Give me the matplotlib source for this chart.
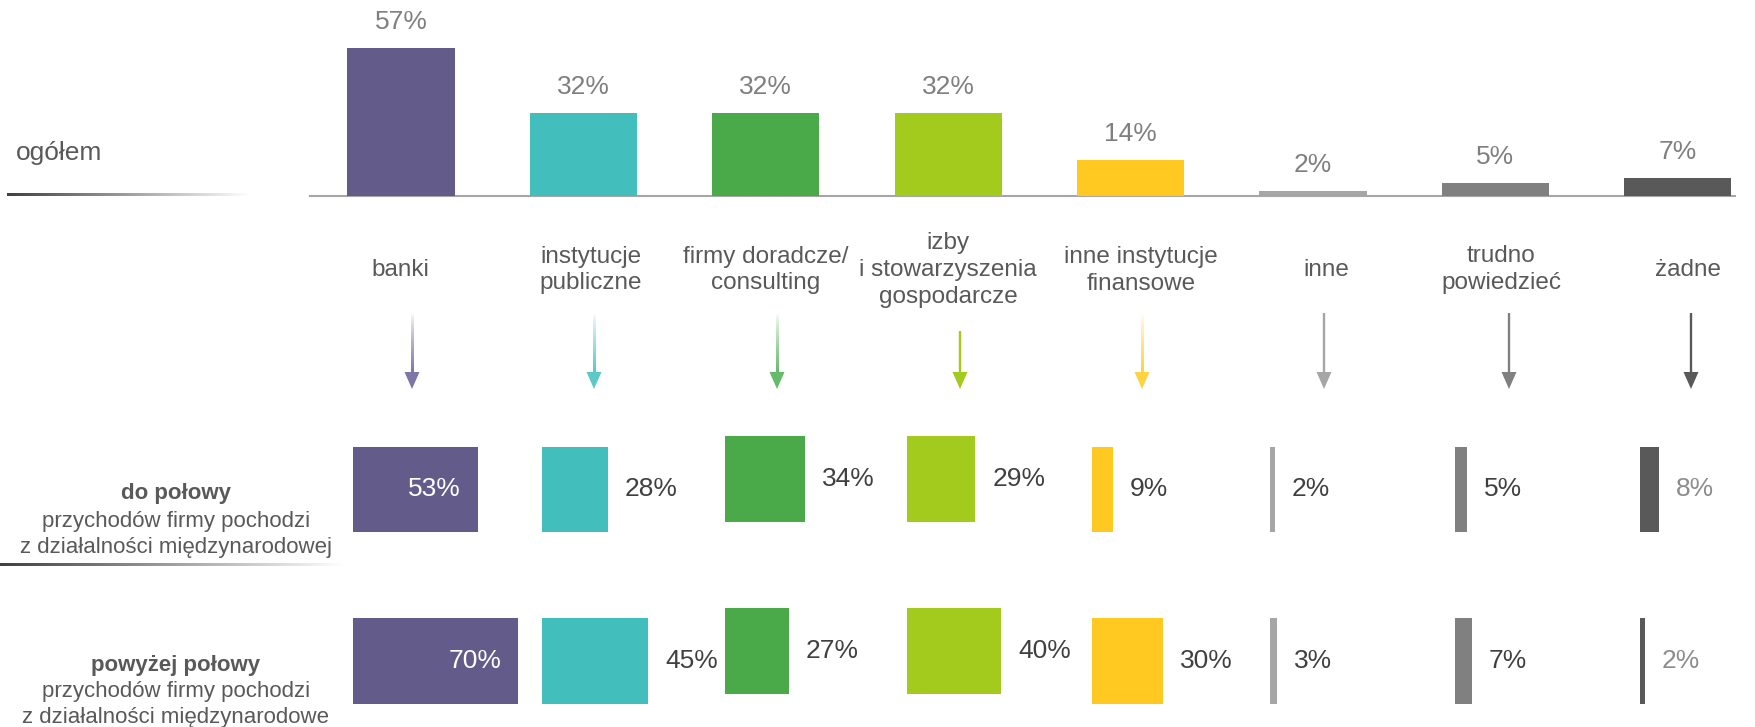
import numpy as np
import matplotlib
matplotlib.use("Agg")
import matplotlib.pyplot as plt
from matplotlib.patches import Polygon
from matplotlib.colors import to_rgb

plt.rcParams['font.family'] = ['Liberation Sans', 'DejaVu Sans']

# ---------------- data ----------------
categories = ["banki", "instytucje\npubliczne", "firmy doradcze/\nconsulting",
              "izby\ni stowarzyszenia\ngospodarcze", "inne instytucje\nfinansowe",
              "inne", "trudno\npowiedzieć", "żadne"]
overall = [57, 32, 32, 32, 14, 2, 5, 7]
up_to_half = [53, 28, 34, 29, 9, 2, 5, 8]
over_half = [70, 45, 27, 40, 30, 3, 7, 2]
row_titles = [("do połowy", "przychodów firmy pochodzi", "z działalności międzynarodowej"),
              ("powyżej połowy", "przychodów firmy pochodzi", "z działalności międzynarodowe")]
overall_label = "ogółem"

colors = ["#635C8A", "#42BEBC", "#4AAA4A", "#A2CB1D", "#FFC922", "#A6A6A6", "#808080", "#595959"]
arrow_colors = ["#7D76A6", "#5CC9C7", "#66BB6A", "#A2CB1D", "#FFD23F", "#A6A6A6", "#808080", "#595959"]
arrow_fade = [True, True, True, False, True, False, False, False]
label_colors = ["white"] + ["#404040"] * 6 + ["#8C8C8C"]

W, H = 1756, 727
fig = plt.figure(figsize=(W / 100, H / 100), dpi=100)
fig.patch.set_facecolor("white")

# overlay axes in pixel coordinates (for text, arrows, decorative lines)
ov = fig.add_axes([0, 0, 1, 1])
ov.axis("off")
ov.patch.set_alpha(0)


def px_to_fig(x0, y0, x1, y1):
    return [x0 / W, 1 - y1 / H, (x1 - x0) / W, (y1 - y0) / H]


def gradient_line(x0, x1, y, c0="#404040", th=2.4, n=256):
    c0 = np.array(to_rgb(c0))
    t = np.linspace(0, 1, n)[:, None]
    cols = c0 * (1 - t) + np.array([1, 1, 1]) * t
    ov.imshow(cols[None, :, :], extent=(x0, x1, y + th / 2, y - th / 2), aspect="auto",
              interpolation="bilinear", zorder=1)


# ---------------- top bar chart ----------------
base_y = 196
px_per_pct_top = 2.59
cat_step = 182.4
first_center = 401
ax_left, ax_right = 310, 1735
ax = fig.add_axes(px_to_fig(ax_left, 0, ax_right, base_y))
ax.patch.set_alpha(0)
x = np.arange(len(categories))
ax.bar(x, overall, width=0.587, color=colors, zorder=2)
ax.set_xlim((ax_left - first_center) / cat_step, (ax_right - first_center) / cat_step)
ax.set_ylim(0, base_y / px_per_pct_top)
ax.axhline(0, color="#A6A6A6", lw=1.5, zorder=1, clip_on=False)
for s in ax.spines.values():
    s.set_visible(False)
ax.set_xticks([])
ax.set_yticks([])
for i, v in enumerate(overall):
    ax.annotate(f"{v}%", (i, v), xytext=(0, 26 * 0.72), textcoords="offset points",
                ha="center", va="center", fontsize=19, color="#7F7F7F")

ov.text(16, 153, overall_label, ha="left", va="center", fontsize=19, color="#595959")
gradient_line(7, 250, 194.5)

# ---------------- category labels and arrows ----------------
label_x = [400, 591, 766, 948, 1141, 1326, 1501, 1688]
arrow_x = [412, 594, 777, 960, 1142, 1324, 1509, 1691]
for i, lab in enumerate(categories):
    lines = lab.split("\n")
    n = len(lines)
    for k, ln in enumerate(lines):
        yy = 270 + (k - (n - 1) / 2) * 27
        ov.text(label_x[i], yy, ln, ha="center", va="center", fontsize=17.5, color="#595959")
    axx = arrow_x[i]
    tip, head_base = 389, 372
    col = np.array(to_rgb(arrow_colors[i]))
    if arrow_fade[i]:
        top = 314
        nn = 128
        alphas = np.linspace(0.0, 1.0, nn) ** 0.8
        rgba = np.zeros((nn, 1, 4))
        rgba[:, 0, :3] = col
        rgba[:, 0, 3] = alphas
        ov.imshow(rgba, extent=(axx - 1.1, axx + 1.1, head_base + 0.5, top), aspect="auto",
                  interpolation="bilinear", zorder=2)
    else:
        top = 331 if i == 3 else 313
        ov.plot([axx, axx], [top, head_base], color=col, lw=1.7, solid_capstyle="butt")
    ov.add_patch(Polygon([(axx - 7.5, head_base), (axx + 7.5, head_base), (axx, tip)],
                         closed=True, facecolor=col, edgecolor="none", zorder=3))

# ---------------- detail rows ----------------
cell_left = [353, 542, 725, 907, 1092, 1270, 1455, 1640]
cell_dy = [0, 0, -10, -10, 0, 0, 0, 0]
row_tops = [446.5, 618.3]
row_h = 85.6
px_per_pct_row = 2.36
cell_w = 200
for r, vals in enumerate([up_to_half, over_half]):
    for i, v in enumerate(vals):
        t = row_tops[r] + cell_dy[i]
        cax = fig.add_axes(px_to_fig(cell_left[i], t, cell_left[i] + cell_w, t + row_h))
        cax.patch.set_alpha(0)
        cax.barh(0, v, height=1.0, left=0, color=colors[i])
        cax.set_xlim(0, cell_w / px_per_pct_row)
        cax.set_ylim(-0.5, 0.5)
        cax.axis("off")
        if i == 0:
            cax.annotate(f"{v}%", (v, 0), xytext=(-17 * 0.72, 0), textcoords="offset points",
                         ha="right", va="center", fontsize=19, color=label_colors[i])
        else:
            cax.annotate(f"{v}%", (v, 0), xytext=(17 * 0.72, 0), textcoords="offset points",
                         ha="left", va="center", fontsize=19, color=label_colors[i])

title_ys = [(494, 521, 547), (666, 692, 718)]
for r, (t1, t2, t3) in enumerate(row_titles):
    y1, y2, y3 = title_ys[r]
    ov.text(176, y1, t1, ha="center", va="center", fontsize=16, fontweight="bold", color="#595959")
    ov.text(176, y2, t2, ha="center", va="center", fontsize=16, color="#595959")
    ov.text(176, y3, t3, ha="center", va="center", fontsize=16, color="#595959")
gradient_line(0, 344, 565)

ov.set_xlim(0, W)
ov.set_ylim(H, 0)
fig.savefig("out.png", dpi=100, facecolor="white")
